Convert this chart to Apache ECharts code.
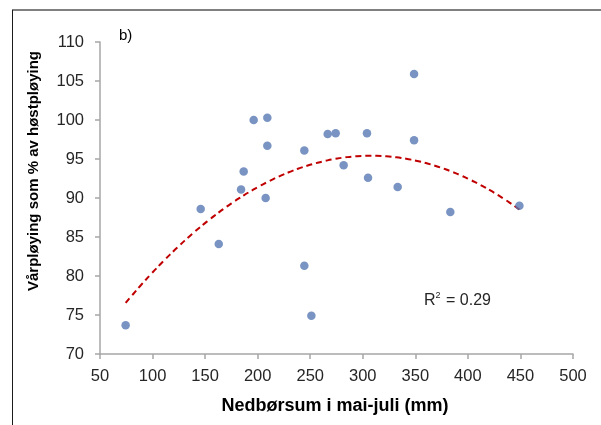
<!DOCTYPE html>
<html>
<head>
<meta charset="utf-8">
<script src="https://cdn.jsdelivr.net/npm/echarts@6/dist/echarts.min.js"></script>
<style>
  html, body { margin: 0; padding: 0; background: #fff; }
  #chart { width: 601px; height: 425px; }
</style>
</head>
<body>
<div id="chart"></div>
<script>
// nedbørsum (mm) og vårpløying i % av høstpløying
const nedbor = [74.4, 145.8, 163, 184.2, 186.7, 196.2, 209.2, 209.2, 207.6, 244.4, 244.4,
  251.1, 266.6, 274.2, 281.8, 304, 305, 333.2, 348.8, 348.8, 383.3, 449];
const varploying = [73.7, 88.6, 84.1, 91.1, 93.4, 100.0, 100.3, 96.7, 90.0, 96.1, 81.3,
  74.9, 98.2, 98.3, 94.2, 98.3, 92.6, 91.4, 105.9, 97.4, 88.2, 89.0];
const xTicks = [50, 500, 50]; // min, max, interval
const yTicks = [70, 110, 5];

// 2. grads polynom (minste kvadrat), som trendlinja i Excel
function polyFit(xs, ys) {
  const m = xs.reduce((a, b) => a + b, 0) / xs.length;
  let S = [[0, 0, 0], [0, 0, 0], [0, 0, 0]], T = [0, 0, 0];
  xs.forEach((x, i) => {
    const u = x - m, p = [1, u, u * u];
    for (let r = 0; r < 3; r++) {
      T[r] += p[r] * ys[i];
      for (let c = 0; c < 3; c++) S[r][c] += p[r] * p[c];
    }
  });
  // gauss
  for (let i = 0; i < 3; i++) {
    for (let j = i + 1; j < 3; j++) {
      const f = S[j][i] / S[i][i];
      for (let k = i; k < 3; k++) S[j][k] -= f * S[i][k];
      T[j] -= f * T[i];
    }
  }
  const b = [0, 0, 0];
  for (let i = 2; i >= 0; i--) {
    let s = T[i];
    for (let k = i + 1; k < 3; k++) s -= S[i][k] * b[k];
    b[i] = s / S[i][i];
  }
  return x => b[0] + b[1] * (x - m) + b[2] * (x - m) * (x - m);
}

const fit = polyFit(nedbor, varploying);
const xMin = Math.min(...nedbor), xMax = Math.max(...nedbor);
const trend = [];
for (let i = 0; i <= 80; i++) {
  const x = xMin + (xMax - xMin) * i / 80;
  trend.push([x, fit(x)]);
}

const punkter = nedbor.map((x, i) => [x, varploying[i]]);

const myChart = echarts.init(document.getElementById("chart"));
const axisColor = "#a6a6a6";
const option = {
  backgroundColor: "#fff",
  animation: false,
  grid: { left: 100, right: 28, top: 42, bottom: 71 },
  xAxis: {
    type: "value",
    min: xTicks[0],
    max: xTicks[1],
    interval: xTicks[2],
    axisLine: { show: true, lineStyle: { color: axisColor, width: 1.5 } },
    axisTick: { show: true, length: 5, lineStyle: { color: axisColor, width: 1.5 } },
    splitLine: { show: false },
    axisLabel: { color: "#262626", fontSize: 16.5, fontFamily: "Liberation Sans", margin: 14 }
  },
  yAxis: {
    type: "value",
    min: yTicks[0],
    max: yTicks[1],
    interval: yTicks[2],
    axisLine: { show: true, lineStyle: { color: axisColor, width: 1.5 } },
    axisTick: { show: true, length: 5, lineStyle: { color: axisColor, width: 1.5 } },
    splitLine: { show: false },
    axisLabel: { color: "#262626", fontSize: 16.5, fontFamily: "Liberation Sans", margin: 16 }
  },
  graphic: [
    { type: "line", shape: { x1: 12, y1: 10, x2: 601, y2: 10 }, style: { stroke: "#7f7f7f", lineWidth: 2 } },
    { type: "line", shape: { x1: 12.5, y1: 10, x2: 12.5, y2: 425 }, style: { stroke: "#1a1a1a", lineWidth: 1 } },
    {
      type: "text", x: 119, y: 28,
      style: { text: "b)", fontSize: 15, fontFamily: "Liberation Sans", fill: "#000" }
    },
    {
      type: "text", x: 335, y: 406,
      style: {
        text: "Nedbørsum i mai-juli (mm)", fontSize: 18, fontWeight: "bold",
        fontFamily: "Liberation Sans", fill: "#000", align: "center", verticalAlign: "middle"
      }
    },
    {
      type: "text", x: 34, y: 171, rotation: Math.PI / 2,
      style: {
        text: "Vårpløying som % av høstpløying", fontSize: 15, fontWeight: "bold",
        fontFamily: "Liberation Sans", fill: "#000", align: "center", verticalAlign: "middle"
      }
    },
    {
      type: "text", x: 424, y: 291,
      style: {
        text: "{a|R}{s|2}{a| = 0.29}",
        fontFamily: "Liberation Sans", fill: "#262626",
        rich: {
          a: { fontSize: 16, fontFamily: "Liberation Sans", fill: "#262626", verticalAlign: "bottom" },
          s: { fontSize: 9, fontFamily: "Liberation Sans", fill: "#262626", verticalAlign: "top", padding: [0, 1, 9, 0] }
        }
      }
    }
  ],
  series: [
    {
      name: "trend",
      type: "line",
      data: trend,
      showSymbol: false,
      smooth: true,
      lineStyle: { color: "#c00000", width: 2, type: [6, 4] },
      z: 1
    },
    {
      name: "punkter",
      type: "scatter",
      data: punkter,
      symbolSize: 8.5,
      itemStyle: { color: "#5878b3" },
      z: 2
    }
  ]
};
myChart.setOption(option);
</script>
</body>
</html>
